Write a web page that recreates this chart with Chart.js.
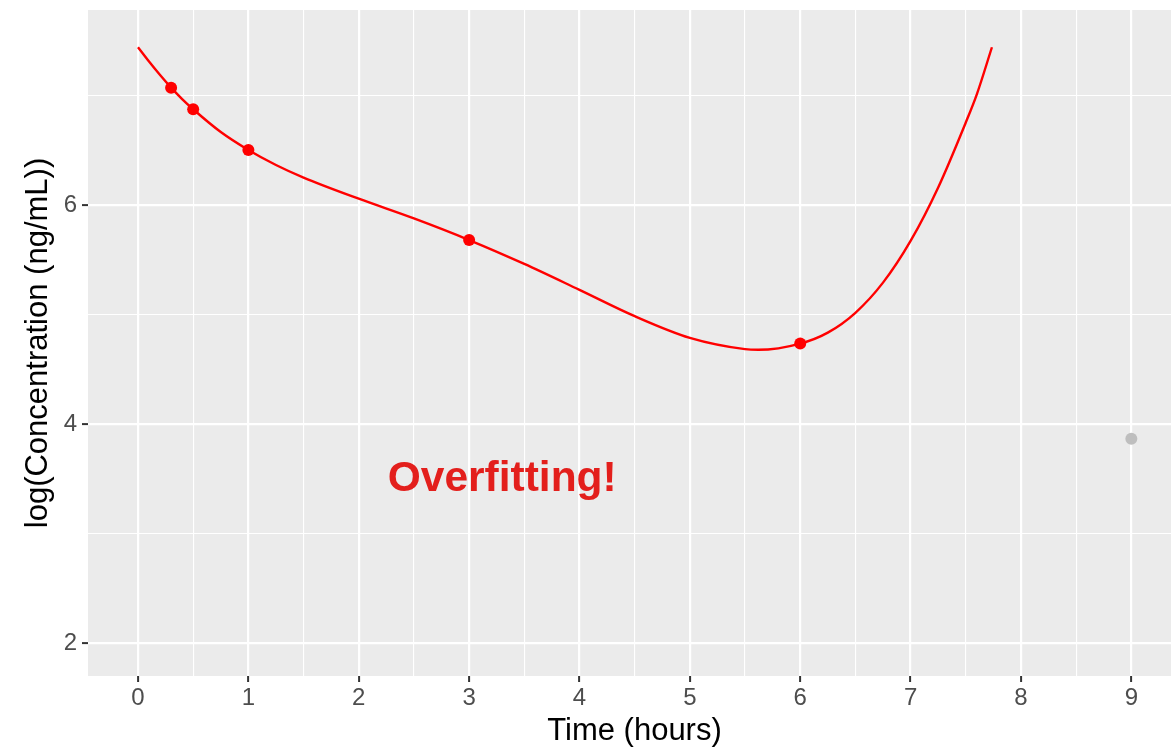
<!DOCTYPE html>
<html>
<head>
<meta charset="utf-8">
<title>Overfitting</title>
<script src="https://cdn.jsdelivr.net/npm/chart.js@4/dist/chart.umd.min.js"></script>
<style>
  html, body { margin: 0; padding: 0; background: #ffffff; overflow: hidden; }
  #wrap { width: 1171px; height: 748px; position: relative; overflow: hidden; }
  #c { display: block; }
</style>
</head>
<body>
<div id="wrap"><canvas id="c" width="1181" height="748"></canvas></div>
<script>
// Fitted polynomial curve (time in hours, log concentration)
const fitTime    = [0, 0.1, 0.2, 0.3, 0.4, 0.5, 0.75, 1, 1.25, 1.5, 2, 2.5, 3, 3.5, 4, 4.5, 5, 5.5, 5.62, 6, 6.25, 6.5, 6.75, 7, 7.25, 7.5, 7.6, 7.737];
const fitLogConc = [7.44, 7.309, 7.186, 7.071, 6.967, 6.874, 6.666, 6.502, 6.365, 6.25, 6.057, 5.877, 5.68, 5.462, 5.225, 4.985, 4.787, 4.684, 4.678, 4.735, 4.835, 5.016, 5.291, 5.672, 6.16, 6.753, 7.01, 7.44];

// Observations used for the fit
const obsTime    = [0.3, 0.5, 1, 3, 6];
const obsLogConc = [7.07, 6.874, 6.502, 5.68, 4.735];

// Held-out observation
const heldTime    = [9];
const heldLogConc = [3.865];

// Axis ticks (integers / even values are labelled, the rest are minor grid lines)
const xTickValues = [0, 0.5, 1, 1.5, 2, 2.5, 3, 3.5, 4, 4.5, 5, 5.5, 6, 6.5, 7, 7.5, 8, 8.5, 9];
const yTickValues = [2, 3, 4, 5, 6, 7];

const xTitle = 'Time (hours)';
const yTitle = 'log(Concentration (ng/mL))';
const noteText = 'Overfitting!';
const noteX = 3.3;
const noteY = 3.5;

const FONT = '"Liberation Sans", Arial, Helvetica, sans-serif';

const toPoints = (xs, ys) => xs.map((x, i) => ({ x: x, y: ys[i] }));

const panelBackground = {
  id: 'panelBackground',
  beforeDraw(chart) {
    const { ctx, chartArea: a } = chart;
    ctx.save();
    ctx.fillStyle = '#EBEBEB';
    ctx.fillRect(a.left, a.top, a.right - a.left, a.bottom - a.top);
    ctx.restore();
  }
};

const noteLabel = {
  id: 'noteLabel',
  afterDatasetsDraw(chart) {
    const { ctx, scales } = chart;
    ctx.save();
    ctx.font = 'bold 42.5px ' + FONT;
    ctx.fillStyle = '#E31F1C';
    ctx.textAlign = 'center';
    ctx.textBaseline = 'middle';
    ctx.fillText(noteText, scales.x.getPixelForValue(noteX), scales.y.getPixelForValue(noteY));
    ctx.restore();
  }
};

const isMajorX = v => Number.isInteger(v);
const isMajorY = v => v % 2 === 0;

new Chart(document.getElementById('c'), {
  type: 'scatter',
  data: {
    datasets: [
      {
        label: 'observed',
        data: toPoints(obsTime, obsLogConc),
        backgroundColor: '#FF0000',
        borderWidth: 0,
        pointRadius: 6,
        order: 0
      },
      {
        label: 'held out',
        data: toPoints(heldTime, heldLogConc),
        backgroundColor: '#BEBEBE',
        borderWidth: 0,
        pointRadius: 6,
        order: 0
      },
      {
        label: 'fit',
        data: toPoints(fitTime, fitLogConc),
        showLine: true,
        borderColor: '#FF0000',
        borderWidth: 2.4,
        pointRadius: 0,
        cubicInterpolationMode: 'monotone',
        order: 1
      }
    ]
  },
  options: {
    responsive: false,
    animation: false,
    devicePixelRatio: 1,
    layout: { autoPadding: false, padding: { top: 10, right: 0, left: 0, bottom: 0 } },
    plugins: { legend: { display: false }, tooltip: { enabled: false } },
    scales: {
      x: {
        type: 'linear',
        min: -0.453,
        max: 9.45,
        afterBuildTicks: s => { s.ticks = xTickValues.map(v => ({ value: v })); },
        afterFit: s => { s.height = 72; s.paddingLeft = 0; s.paddingRight = 0; },
        border: { display: false },
        grid: {
          color: '#FFFFFF',
          lineWidth: c => (isMajorX(c.tick.value) ? 2.2 : 1.1),
          tickColor: c => (isMajorX(c.tick.value) ? '#333333' : 'rgba(0,0,0,0)'),
          tickWidth: 2,
          tickLength: 6
        },
        ticks: {
          autoSkip: false,
          maxRotation: 0,
          padding: 2,
          color: '#4D4D4D',
          font: { family: FONT, size: 24 },
          callback: v => (isMajorX(v) ? String(v) : '')
        },
        title: {
          display: true,
          text: xTitle,
          color: '#000000',
          font: { family: FONT, size: 31, lineHeight: 1.05 },
          padding: { top: 0, bottom: 0 }
        }
      },
      y: {
        type: 'linear',
        min: 1.70,
        max: 7.78,
        afterBuildTicks: s => { s.ticks = yTickValues.map(v => ({ value: v })); },
        afterFit: s => { s.width = 88; s.paddingTop = 0; s.paddingBottom = 0; },
        border: { display: false },
        grid: {
          color: '#FFFFFF',
          lineWidth: c => (isMajorY(c.tick.value) ? 2.2 : 1.1),
          tickColor: c => (isMajorY(c.tick.value) ? '#333333' : 'rgba(0,0,0,0)'),
          tickWidth: 2,
          tickLength: 6
        },
        ticks: {
          padding: 5,
          color: '#4D4D4D',
          font: { family: FONT, size: 24 },
          callback: v => (isMajorY(v) ? String(v) : '')
        },
        title: {
          display: true,
          text: yTitle,
          color: '#000000',
          font: { family: FONT, size: 31, lineHeight: 1.1 },
          padding: { top: 21, bottom: 0 }
        }
      }
    }
  },
  plugins: [panelBackground, noteLabel]
});
</script>
</body>
</html>
